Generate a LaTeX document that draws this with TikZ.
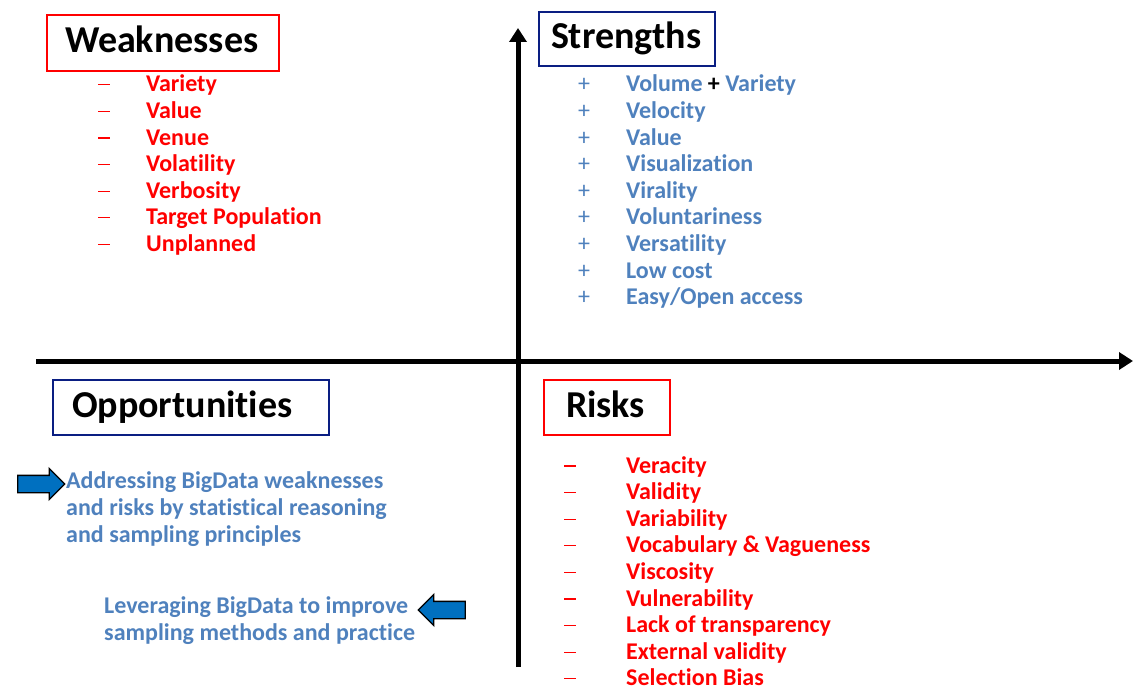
\documentclass[tikz,border=0pt]{standalone}
\usepackage{fontspec}
\setmainfont{Carlito}[RawFeature={-liga}]
\usetikzlibrary{arrows.meta,shapes.arrows}
\definecolor{swred}{RGB}{255,0,0}
\definecolor{swblue}{RGB}{79,129,189}
\definecolor{swnavy}{RGB}{10,30,130}
\definecolor{swarrow}{RGB}{0,112,192}
\newcommand{\listdash}{\rule[6.5pt]{12pt}{1.2pt}}
\tikzset{
    axisline/.style={line width=5pt,-{Triangle[length=14pt,width=17pt]}},
    titlebox/.style={draw,line width=2.5pt,inner ysep=0pt,align=left,text=black,
        text height=26pt,text depth=7pt,font=\fontsize{38}{42}\selectfont\bfseries},
    redbox/.style={titlebox,draw=swred},
    navybox/.style={titlebox,draw=swnavy},
    itemred/.style={anchor=base west,inner sep=0pt,text=swred,font=\fontsize{24}{26.6}\selectfont\bfseries},
    itemblue/.style={anchor=base west,inner sep=0pt,text=swblue,font=\fontsize{24}{26.6}\selectfont\bfseries},
    markred/.style={anchor=base west,inner sep=0pt,text=swred,font=\fontsize{24}{26.6}\selectfont},
    markblue/.style={anchor=base west,inner sep=0pt,text=swblue,font=\fontsize{24}{26.6}\selectfont},
    opptext/.style={anchor=base west,inner sep=0pt,align=left,text=swblue,font=\fontsize{24}{27}\selectfont\bfseries},
    bluearrow/.style={single arrow,draw=black,fill=swarrow,line width=1.3pt,inner xsep=0pt,inner ysep=8pt,
        minimum height=47pt,single arrow head extend=7pt}
}
\begin{document}
\begin{tikzpicture}[x=1pt,y=-1pt]
    \useasboundingbox (0,0) rectangle (1133,687);

    % axes
    \coordinate (xfrom) at (36,361);
    \coordinate (xto) at (1133,361);
    \coordinate (yfrom) at (518,667);
    \coordinate (yto) at (518,28);
    \draw[axisline] (xfrom) -- (xto);
    \draw[axisline] (yfrom) -- (yto);

    % quadrant titles
    \node[redbox,minimum height=56pt,inner xsep=18pt,text width=196pt] (weak) at (163,43) {Weaknesses};
    \node[navybox,minimum height=54pt,inner xsep=12pt,text width=152pt] (strong) at (627,39) {Strengths};
    \node[navybox,minimum height=55pt,inner xsep=19pt,text width=238pt] (opp) at (191,407.5) {Opportunities};
    \node[redbox,minimum height=55pt,inner xsep=22pt,text width=82pt] (risk) at (607,407.5) {Risks};

    % weaknesses
    \foreach \txt [count=\i, evaluate=\i as \yy using 92+26.6*(\i-1)] in
        {Variety,Value,Venue,Volatility,Verbosity,Target Population,Unplanned}{
        \node[markred] (wm\i) at (98,\yy) {\listdash};
        \node[itemred] (w\i) at (146,\yy) {\txt};
    }

    % strengths
    \foreach \txt [count=\i, evaluate=\i as \yy using 92+26.6*(\i-1)] in
        {{Volume {\color{black}+} Variety},Velocity,Value,Visualization,Virality,Voluntariness,Versatility,Low cost,Easy/Open access}{
        \node[markblue] (sm\i) at (578,\yy) {+};
        \node[itemblue] (s\i) at (626,\yy) {\txt};
    }

    % risks
    \foreach \txt [count=\i, evaluate=\i as \yy using 473+26.6*(\i-1)] in
        {Veracity,Validity,Variability,Vocabulary \& Vagueness,Viscosity,Vulnerability,Lack of transparency,External validity,Selection Bias}{
        \node[markred] (rm\i) at (564,\yy) {\listdash};
        \node[itemred] (r\i) at (626,\yy) {\txt};
    }

    % opportunities (base = last line)
    \node[opptext] (addr) at (66,542) {Addressing BigData weaknesses\\and risks by statistical reasoning\\and sampling principles};
    \node[opptext] (lever) at (104,640) {Leveraging BigData to improve\\sampling methods and practice};
    \node[bluearrow] (addrarrow) at (37,484) {};
    \node[bluearrow,shape border rotate=180] (leverarrow) at (446,610) {};
\end{tikzpicture}
\end{document}
